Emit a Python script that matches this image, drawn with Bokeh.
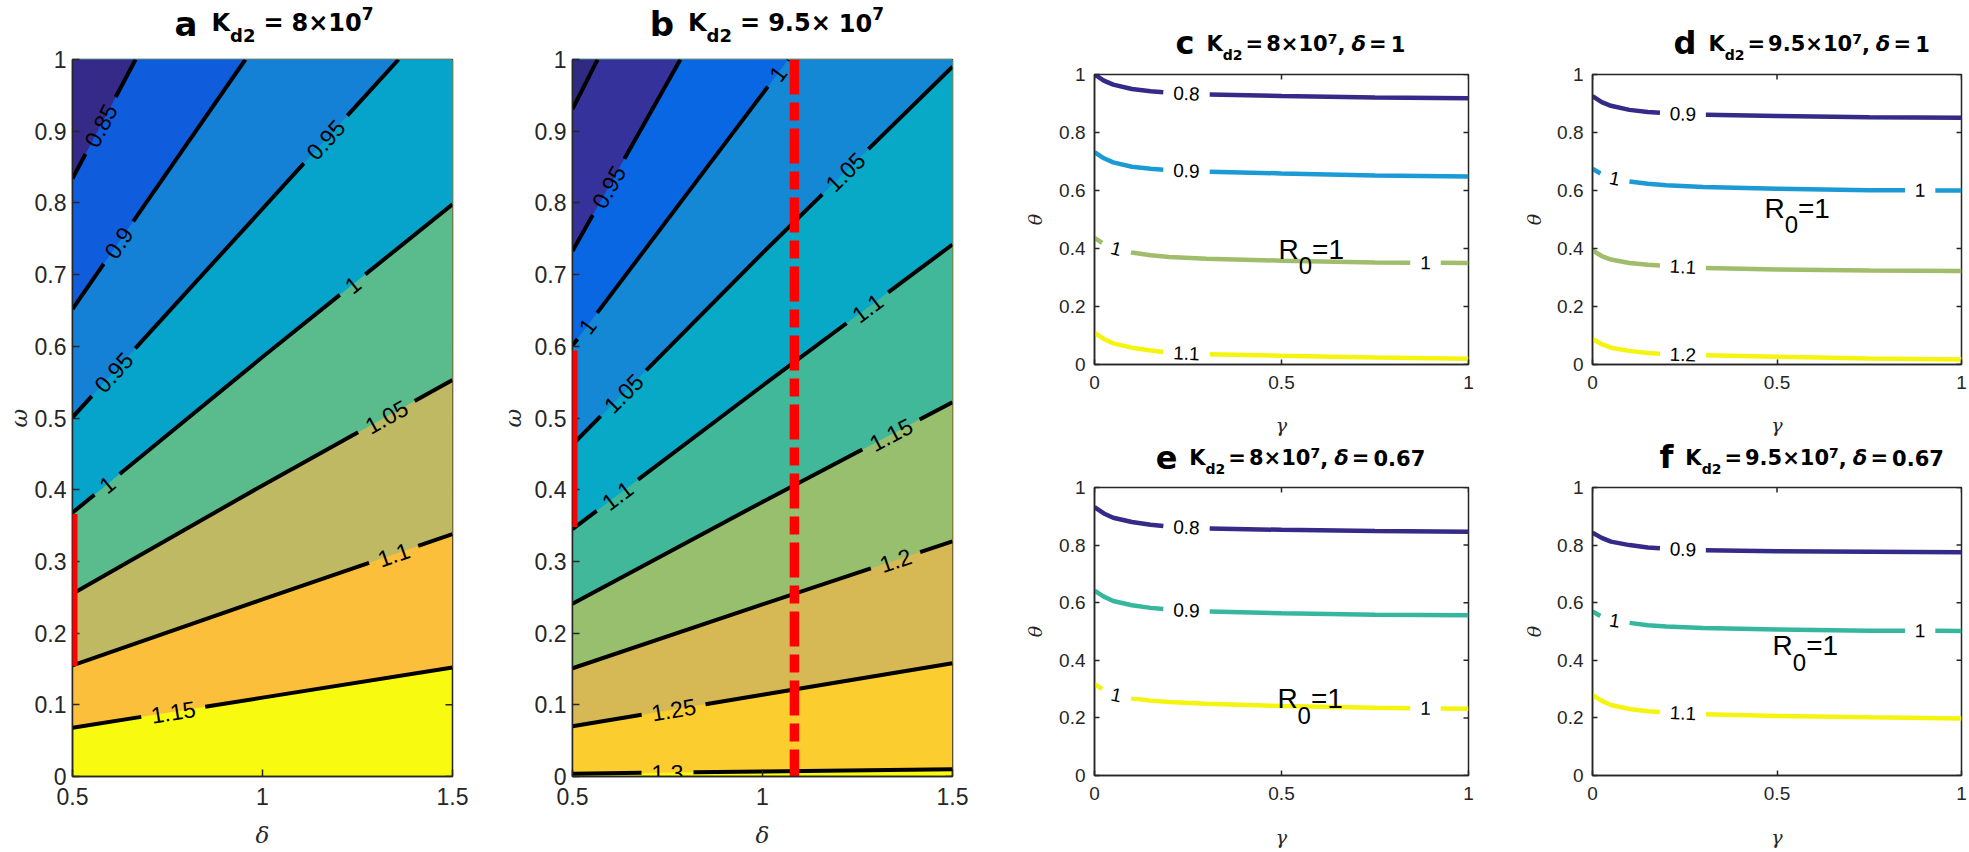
import numpy as np
from bokeh.plotting import figure
from bokeh.models import Range1d, FixedTicker, Label, Arrow, ColumnDataSource
from bokeh.layouts import row, column
from bokeh.core.properties import value
from bokeh.embed import file_html
from bokeh.resources import INLINE

# ======================= DATA =======================
# ---- panel a : R0 contours in (delta, omega), Kd2 = 8e7 ----
a_levels = [0.85, 0.90, 0.95, 1.00, 1.05, 1.10, 1.15]
a_level_text = ["0.85", "0.9", "0.95", "1", "1.05", "1.1", "1.15"]
a_line_delta = [[0.5, 0.666], [0.5, 0.955], [0.5, 1.358], [0.5, 1.0, 1.5],
                [0.5, 1.0, 1.5], [0.5, 1.0, 1.5], [0.5, 1.0, 1.5]]
a_line_omega = [[0.834, 1.0], [0.652, 1.0], [0.501, 1.0], [0.368, 0.585, 0.798],
                [0.255, 0.406, 0.553], [0.155, 0.247, 0.338], [0.068, 0.110, 0.152]]
a_label_delta = [[0.574], [0.621], [0.608, 1.166], [0.591, 1.237], [1.326], [1.345], [0.765]]
a_fill = ["#352a87", "#0f5cdd", "#1481d6", "#06a4ca", "#5abc8c", "#c0b964", "#fcbf3c", "#f8fa0f"]
a_red_omega = [0.154, 0.366]

# ---- panel b : Kd2 = 9.5e7 ----
b_levels = [0.90, 0.95, 1.00, 1.05, 1.10, 1.15, 1.20, 1.25, 1.30]
b_level_text = ["0.9", "0.95", "1", "1.05", "1.1", "1.15", "1.2", "1.25", "1.3"]
b_line_delta = [[0.5, 0.566], [0.5, 0.784], [0.5, 1.068], [0.5, 1.0, 1.5], [0.5, 1.0, 1.5],
                [0.5, 1.0, 1.5], [0.5, 1.0, 1.5], [0.5, 1.0, 1.5], [0.5, 1.0, 1.5]]
b_line_omega = [[0.931, 1.0], [0.733, 1.0], [0.601, 1.0], [0.463, 0.730, 0.990],
                [0.345, 0.545, 0.742], [0.241, 0.383, 0.522], [0.151, 0.240, 0.328],
                [0.070, 0.114, 0.158], [0.004, 0.007, 0.010]]
b_label_delta = [[], [0.595], [0.539, 1.04], [0.634, 1.218], [0.618, 1.276], [1.338], [1.35], [0.766], [0.75]]
b_fill = ["#2f2a82", "#35329b", "#0a67e3", "#1488d4", "#07a9c6", "#40b899",
          "#98bf6e", "#d6b955", "#fbcd2f", "#f8fa0f"]
b_red_omega = [0.348, 0.594]
b_dash_delta = 1.084

# ---- panels c-f : R0 contours in (gamma, theta) ----
gamma = [0, 0.025, 0.05, 0.1, 0.15, 0.2, 0.3, 0.5, 0.75, 1.0]

c_levels = ["0.8", "0.9", "1", "1.1"]
c_theta = [[1.000, 0.979, 0.965, 0.950, 0.942, 0.937, 0.931, 0.926, 0.921, 0.918],
           [0.732, 0.711, 0.697, 0.682, 0.675, 0.670, 0.665, 0.659, 0.652, 0.648],
           [0.437, 0.416, 0.402, 0.386, 0.377, 0.371, 0.365, 0.358, 0.352, 0.350],
           [0.109, 0.088, 0.073, 0.058, 0.048, 0.041, 0.036, 0.030, 0.024, 0.020]]
c_label_gamma = [[0.246], [0.246], [0.058, 0.885], [0.246]]
c_colors = ["#352a87", "#1c9ad6", "#a0bd6b", "#f5f40f"]
c_r0 = (0.492, 0.363)

d_levels = ["0.9", "1", "1.1", "1.2"]
d_theta = [[0.925, 0.905, 0.892, 0.878, 0.871, 0.866, 0.861, 0.857, 0.853, 0.851],
           [0.675, 0.656, 0.644, 0.631, 0.623, 0.618, 0.612, 0.606, 0.601, 0.600],
           [0.393, 0.374, 0.362, 0.350, 0.344, 0.340, 0.333, 0.328, 0.324, 0.322],
           [0.088, 0.070, 0.058, 0.047, 0.040, 0.036, 0.032, 0.027, 0.021, 0.017]]
d_label_gamma = [[0.245], [0.06, 0.888], [0.245], [0.245]]
d_colors = ["#352a87", "#1c9ad6", "#a0bd6b", "#f5f40f"]
d_r0 = (0.466, 0.505)

e_levels = ["0.8", "0.9", "1"]
e_theta = [[0.932, 0.910, 0.895, 0.880, 0.871, 0.864, 0.858, 0.853, 0.849, 0.846],
           [0.642, 0.621, 0.606, 0.591, 0.582, 0.576, 0.570, 0.563, 0.558, 0.556],
           [0.318, 0.296, 0.282, 0.268, 0.260, 0.255, 0.249, 0.241, 0.235, 0.232]]
e_label_gamma = [[0.246], [0.246], [0.058, 0.885]]
e_colors = ["#352a87", "#36b79d", "#f5f40f"]
e_r0 = (0.489, 0.232)

f_levels = ["0.9", "1", "1.1"]
f_theta = [[0.843, 0.825, 0.812, 0.800, 0.792, 0.788, 0.782, 0.779, 0.777, 0.775],
           [0.570, 0.551, 0.540, 0.530, 0.522, 0.517, 0.512, 0.507, 0.503, 0.502],
           [0.280, 0.259, 0.245, 0.231, 0.223, 0.219, 0.213, 0.207, 0.202, 0.198]]
f_label_gamma = [[0.245], [0.06, 0.888], [0.245]]
f_colors = ["#352a87", "#36b79d", "#f5f40f"]
f_r0 = (0.488, 0.416)

# ticks
ab_xticks = [0.5, 1.0, 1.5]
ab_xlabels = ["0.5", "1", "1.5"]
ab_yticks = [0.0, 0.1, 0.2, 0.3, 0.4, 0.5, 0.6, 0.7, 0.8, 0.9, 1.0]
ab_ylabels = ["0", "0.1", "0.2", "0.3", "0.4", "0.5", "0.6", "0.7", "0.8", "0.9", "1"]
cf_xticks = [0.0, 0.5, 1.0]
cf_xlabels = ["0", "0.5", "1"]
cf_yticks = [0.0, 0.2, 0.4, 0.6, 0.8, 1.0]
cf_ylabels = ["0", "0.2", "0.4", "0.6", "0.8", "1"]

# titles: (panel letter, Kd2 mantissa part(s), delta value)
titles_ab = [("a", ["8×10"]), ("b", ["9.5×", "10"])]
titles_cf = [("c", "8×10", "1"), ("d", "9.5×10", "1"), ("e", "8×10", "0.67"), ("f", "9.5×10", "0.67")]

# ======================= HELPERS =======================
AXC = "#262626"
LIB = {".": 0.278, "=": 0.584, "R": 0.722, " ": 0.278}
DJB = {" ": 0.348, "a": 0.675, "b": 0.716, "c": 0.593, "d": 0.716, "e": 0.678, "f": 0.435,
       "K": 0.775, "=": 0.838, "×": 0.838, ",": 0.380, ".": 0.380, "δ": 0.652}


def w_lib(s, size):
    return sum(0.556 if ch.isdigit() else LIB.get(ch, 0.6) for ch in s) * size


def w_dj(s, size):
    return sum(0.696 if ch.isdigit() else DJB.get(ch, 0.65) for ch in s) * size


def split_line(xs, ys, label_xs, texts, sx, sy, fsize, pad):
    xs = np.asarray(xs, float)
    ys = np.asarray(ys, float)
    px, py = xs * sx, ys * sy
    seg = np.hypot(np.diff(px), np.diff(py))
    s = np.concatenate([[0.0], np.cumsum(seg)])
    gaps, labs = [], []
    for lx, t in zip(label_xs, texts):
        sc = float(np.interp(lx, xs, s))
        hw = w_lib(t, fsize) / 2 + pad
        gaps.append((sc - hw, sc + hw))
        i = int(np.clip(np.searchsorted(s, sc) - 1, 0, len(seg) - 1))
        ang = float(np.arctan2(py[i + 1] - py[i], px[i + 1] - px[i]))
        labs.append((float(np.interp(sc, s, xs)), float(np.interp(sc, s, ys)), ang, t))
    pieces, cur = [], 0.0
    for g0, g1 in sorted(gaps):
        if g0 > cur:
            pieces.append((cur, g0))
        cur = max(cur, g1)
    if cur < s[-1]:
        pieces.append((cur, s[-1]))
    segs = []
    for a0, b0 in pieces:
        ss = [a0] + [v for v in s if a0 < v < b0] + [b0]
        segs.append(([float(np.interp(v, s, xs)) for v in ss], [float(np.interp(v, s, ys)) for v in ss]))
    return segs, labs


def make_fig(w, h, L, R, T, B, xr, yr):
    p = figure(width=w, height=h, x_range=Range1d(*xr), y_range=Range1d(*yr), title=None,
               output_backend="svg", toolbar_location=None, tools="",
               min_border_left=L, min_border_right=R, min_border_top=T, min_border_bottom=B)
    p.grid.visible = False
    p.outline_line_color = AXC
    p.outline_line_width = 1.5
    p.border_fill_color = "white"
    return p


def title_fig(w, h):
    p = figure(width=w, height=h, x_range=Range1d(0, w), y_range=Range1d(0, h), title=None,
               output_backend="svg", toolbar_location=None, tools="",
               x_axis_type=None, y_axis_type=None, min_border=0)
    p.grid.visible = False
    p.outline_line_color = None
    p.background_fill_color = "white"
    p.border_fill_color = "white"
    return p


def style_axes(p, xt, xl, yt, yl, fs, tlen, xstand, ystand, sx, sy,
               xlab, ylab, lab_fs, xlab_stand, ylab_stand):
    xa, ya = p.below[0], p.left[0]
    xa.ticker = FixedTicker(ticks=xt)
    xa.major_label_overrides = {float(t): l for t, l in zip(xt, xl)}
    ya.ticker = FixedTicker(ticks=yt)
    ya.major_label_overrides = {float(t): l for t, l in zip(yt, yl)}
    xa.major_label_standoff = xstand
    ya.major_label_standoff = ystand
    xa.axis_label = xlab
    ya.axis_label = ylab
    xa.axis_label_standoff = xlab_stand
    ya.axis_label_standoff = ylab_stand
    for ax in (xa, ya):
        ax.major_label_text_font = "Liberation Sans"
        ax.major_label_text_font_size = f"{fs}px"
        ax.major_label_text_color = AXC
        ax.axis_label_text_font = "DejaVu Serif"
        ax.axis_label_text_font_style = "italic"
        ax.axis_label_text_font_size = f"{lab_fs}px"
        ax.axis_label_text_color = AXC
        ax.major_tick_in = tlen
        ax.major_tick_out = 0
        ax.minor_tick_line_color = None
        ax.axis_line_color = AXC
        ax.axis_line_width = 1.5
        ax.major_tick_line_color = AXC
        ax.major_tick_line_width = 1.5
    # inward ticks on the top and right edges of the box
    x1 = p.x_range.end
    y1 = p.y_range.end
    dy, dx = tlen / sy, tlen / sx
    p.segment(x0=xt, y0=[y1] * len(xt), x1=xt, y1=[y1 - dy] * len(xt),
              line_color=AXC, line_width=1.5)
    p.segment(x0=[x1] * len(yt), y0=yt, x1=[x1 - dx] * len(yt), y1=yt,
              line_color=AXC, line_width=1.5)


def add_pieces(p, x, y, pieces, font, wfun, center=True, color="black"):
    """Place text pieces side by side; (x, y) is the baseline anchor, dy in px."""
    total = sum(pc[1] if pc[0] is None else wfun(pc[0], pc[1]) for pc in pieces)
    off = -total / 2 if center else 0.0
    for pc in pieces:
        if pc[0] is None:
            off += pc[1]
            continue
        t, sz, dy, st = pc
        p.add_layout(Label(x=x, y=y, x_offset=off, y_offset=dy + 0.35 * sz, text=t,
                           text_font=font, text_font_size=f"{sz}px", text_font_style=st,
                           text_color=color, text_align="left", text_baseline="middle"))
        off += wfun(t, sz)


def contour_panel(p, levels, lines_x, lines_y, label_x, texts, fills, sx, sy):
    xr0 = p.x_range.start
    yr1 = p.y_range.end
    p.background_fill_color = fills[-1]
    pxs, pys, pcs = [], [], []
    for k in range(len(levels) - 1, -1, -1):
        pxs.append(list(lines_x[k]) + [lines_x[k][-1], xr0])
        pys.append(list(lines_y[k]) + [yr1, yr1])
        pcs.append(fills[k])
    p.patches(xs=pxs, ys=pys, fill_color=pcs, line_color=None)
    mx, my = [], []
    lab = dict(x=[], y=[], text=[], angle=[])
    for k in range(len(levels)):
        segs, labs = split_line(lines_x[k], lines_y[k], label_x[k], [texts[k]] * len(label_x[k]),
                                sx, sy, 23, 10)
        for sxs, sys_ in segs:
            mx.append(sxs)
            my.append(sys_)
        for (lx, ly, an, t) in labs:
            lab["x"].append(lx); lab["y"].append(ly); lab["angle"].append(an); lab["text"].append(t)
    p.multi_line(xs=mx, ys=my, line_color="black", line_width=4)
    p.text(x="x", y="y", text="text", angle="angle", source=ColumnDataSource(lab),
           text_font=value("Liberation Sans"), text_font_size=value("23px"),
           text_align="center", text_baseline="middle", text_color="black")


def curve_panel(p, levels, thetas, label_g, colors, sx, sy, r0):
    mx, my, mc = [], [], []
    lab = dict(x=[], y=[], text=[], angle=[])
    for k in range(len(levels)):
        segs, labs = split_line(gamma, thetas[k], label_g[k], [levels[k]] * len(label_g[k]),
                                sx, sy, 19, 10)
        for sxs, sys_ in segs:
            mx.append(sxs); my.append(sys_); mc.append(colors[k])
        for (lx, ly, an, t) in labs:
            lab["x"].append(lx); lab["y"].append(ly); lab["angle"].append(an); lab["text"].append(t)
    p.multi_line(xs=mx, ys=my, line_color=mc, line_width=4.5)
    p.text(x="x", y="y", text="text", angle="angle", source=ColumnDataSource(lab),
           text_font=value("Liberation Sans"), text_font_size=value("19px"),
           text_align="center", text_baseline="middle", text_color="black")
    add_pieces(p, r0[0], r0[1], [("R", 28, 0, "normal"), ("0", 24, -15, "normal"), ("=1", 28, 0, "normal")],
               "Liberation Sans", w_lib, center=False)


def title_ab(t, xc, yb, letter, kd_parts):
    pcs = [(letter, 34, -4, "bold"), (None, 14), ("K", 24, 0, "bold"), ("d2", 18, -10, "bold"),
           (None, 8), ("=", 24, 0, "bold"), (None, 8)]
    for i, part in enumerate(kd_parts):
        if i > 0:
            pcs.append((None, 8))
        pcs.append((part, 24, 0, "bold"))
    pcs.append(("7", 17, 12, "bold"))
    add_pieces(t, xc, yb, pcs, "DejaVu Sans", w_dj)


def title_cf(t, xc, yb, letter, kd, dl):
    add_pieces(t, xc, yb,
               [(letter, 32, -3, "bold"), (None, 12), ("K", 21, 0, "bold"), ("d2", 14, -8, "bold"),
                (None, 3), ("=", 21, 0, "bold"), (None, 3), (kd, 21, 0, "bold"), ("7", 14, 8, "bold"),
                (",", 21, 0, "bold"), (None, 6), ("δ", 21, 0, "bold italic"), (None, 4),
                ("=", 21, 0, "bold"), (None, 4), (dl, 21, 0, "bold")],
               "DejaVu Sans", w_dj)


# ======================= FIGURES =======================
# panel a   (title strip 45 px, plot frame 380 x 720 starting at y = 59)
ta = title_fig(494, 45)
fa = make_fig(494, 805, 72, 42, 14, 71, (0.5, 1.5), (0.0, 1.0))
style_axes(fa, ab_xticks, ab_xlabels, ab_yticks, ab_ylabels, 23, 7, 11, 6, 380, 720,
           "δ", "ω", 23, 14, 0)
contour_panel(fa, a_levels, a_line_delta, a_line_omega, a_label_delta, a_level_text, a_fill, 380, 720)
fa.add_layout(Arrow(end=None, x_start=0.5, y_start=a_red_omega[0], x_end=0.5, y_end=a_red_omega[1],
                    line_color="#ff0000", line_width=10))
title_ab(ta, 72 + 190, 14, *titles_ab[0])

# panel b
tb = title_fig(524, 45)
fb = make_fig(524, 805, 78, 66, 14, 71, (0.5, 1.5), (0.0, 1.0))
style_axes(fb, ab_xticks, ab_xlabels, ab_yticks, ab_ylabels, 23, 7, 11, 6, 380, 720,
           "δ", "ω", 23, 14, 6)
contour_panel(fb, b_levels, b_line_delta, b_line_omega, b_label_delta, b_level_text, b_fill, 380, 720)
fb.add_layout(Arrow(end=None, x_start=0.5, y_start=b_red_omega[0], x_end=0.5, y_end=b_red_omega[1],
                    line_color="#ff0000", line_width=10))
fb.line(x=[b_dash_delta, b_dash_delta], y=[fb.y_range.end, fb.y_range.start],
        line_color="#ff0000", line_width=9.5, line_dash="35 8 18 8")
title_ab(tb, 78 + 190, 14, *titles_ab[1])

# panels c-f
tc, td = title_fig(502, 63), title_fig(449, 63)
te, tf = title_fig(502, 38), title_fig(449, 38)
fc = make_fig(502, 375, 76, 52, 11, 69, (0.0, 1.0), (0.0, 1.0))
fd = make_fig(449, 375, 68, 8, 11, 69, (0.0, 1.0), (0.0, 1.0))
fe = make_fig(502, 374, 76, 52, 11, 70, (0.0, 1.0), (0.0, 1.0))
ff = make_fig(449, 374, 68, 8, 11, 70, (0.0, 1.0), (0.0, 1.0))

specs = [
    (fc, tc, 76 + 187, 12, c_levels, c_theta, c_label_gamma, c_colors, 374, 295, c_r0, titles_cf[0], 22, 10),
    (fd, td, 68 + 186.5, 12, d_levels, d_theta, d_label_gamma, d_colors, 373, 295, d_r0, titles_cf[1], 22, 9),
    (fe, te, 76 + 187, 11, e_levels, e_theta, e_label_gamma, e_colors, 374, 293, e_r0, titles_cf[2], 23, 10),
    (ff, tf, 68 + 186.5, 11, f_levels, f_theta, f_label_gamma, f_colors, 373, 293, f_r0, titles_cf[3], 23, 9),
]
for (p, t, xc, yb, lv, th, lg, cols, sx, sy, r0, tt, xls, yls) in specs:
    style_axes(p, cf_xticks, cf_xlabels, cf_yticks, cf_ylabels, 19, 5, 11, 9, sx, sy,
               "γ", "θ", 19, xls, yls)
    curve_panel(p, lv, th, lg, cols, sx, sy, r0)
    title_cf(t, xc, yb, *tt)

layout = row(column(ta, fa), column(tb, fb),
             column(row(column(tc, fc), column(td, fd)), row(column(te, fe), column(tf, ff))))
open("out.html", "w").write(file_html(layout, INLINE))
